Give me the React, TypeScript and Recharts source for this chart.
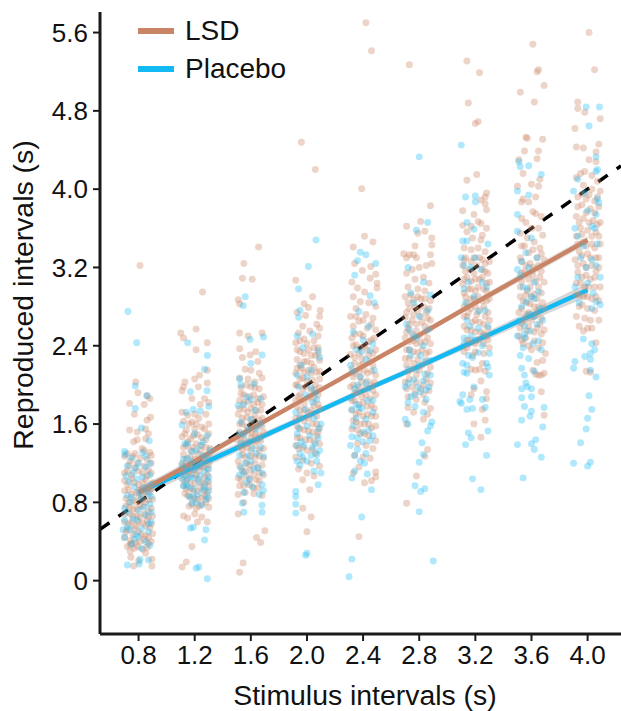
import { ComposedChart, Scatter, Line, Area, XAxis, YAxis, ZAxis, Label } from 'recharts';

type Pair = [number, number];

const xTicks = [0.8, 1.2, 1.6, 2.0, 2.4, 2.8, 3.2, 3.6, 4.0];
const yTicks = [0, 0.8, 1.6, 2.4, 3.2, 4.0, 4.8, 5.6];

const LSD_COLOR = '#c98465';
const PLACEBO_COLOR = '#12b9f3';
const AXIS_COLOR = '#1a1a1a';
const FONT = '"Liberation Sans", Arial, sans-serif';

// fitted lines, read at each stimulus interval
const lsdFit = [0.9, 1.22, 1.55, 1.87, 2.19, 2.51, 2.84, 3.16, 3.48];
const placeboFit = [0.9, 1.16, 1.42, 1.68, 1.94, 2.19, 2.45, 2.71, 2.97];
const lsdBandLow = [0.85, 1.18, 1.52, 1.85, 2.17, 2.49, 2.81, 3.12, 3.44];
const lsdBandHigh = [0.95, 1.26, 1.58, 1.89, 2.21, 2.53, 2.87, 3.2, 3.52];
const placeboBandLow = [0.84, 1.11, 1.38, 1.65, 1.91, 2.16, 2.41, 2.66, 2.9];
const placeboBandHigh = [0.96, 1.21, 1.46, 1.71, 1.97, 2.22, 2.49, 2.76, 3.04];
const identityX = [0.525, 4.238];

const lsd08: Pair[] = [[.81,3.22],[.78,2.03],[.795,1.92],[.736,1.81],[.84,1.8],[.88,1.86],[.86,1.89],[.77,1.7],[.885,1.67],[.86,1.64],[.736,1.54],[.79,1.52],[.85,1.55],[.87,1.5],[.765,1.42],[.79,1.44],[.85,1.45],[.825,1.35],[.775,1.3],[.88,1.31],[.7,1.27],[.74,1.22],[.81,1.25],[.86,1.24],[.89,1.2],[.72,1.12],[.77,1.15],[.83,1.1],[.87,1.13],[.7,1.02],[.75,1.04],[.8,.98],[.85,1.03],[.9,1.0],[.73,.93],[.78,.9],[.82,.93],[.88,.9],[.71,.84],[.76,.82],[.8,.85],[.85,.8],[.9,.83],[.74,.75],[.79,.73],[.83,.76],[.87,.71],[.7,.68],[.76,.66],[.81,.65],[.86,.62],[.9,.66],[.73,.58],[.78,.56],[.83,.59],[.88,.54],[.71,.5],[.76,.47],[.8,.5],[.85,.46],[.9,.48],[.74,.41],[.78,.39],[.81,.4],[.87,.38],[.72,.35],[.77,.33],[.83,.32],[.74,.3],[.745,.24],[.85,.28],[.895,.22],[.765,.15],[.895,.15],[.8,.2]];
const lsdCore08: Pair[] = [[.72,1.3],[.76,1.27],[.84,1.33],[.89,1.28],[.73,1.18],[.79,1.2],[.84,1.17],[.7,1.1],[.75,1.08],[.8,1.12],[.86,1.07],[.89,1.1],[.72,.98],[.77,1.0],[.83,1.0],[.87,.96],[.7,.92],[.75,.88],[.8,.92],[.85,.9],[.89,.94],[.73,.8],[.78,.8],[.83,.83],[.87,.83],[.71,.76],[.76,.73],[.81,.77],[.89,.74],[.74,.68],[.79,.66],[.84,.68],[.87,.65],[.7,.6],[.75,.6],[.8,.6],[.85,.56],[.89,.58],[.72,.52],[.77,.53],[.82,.47],[.87,.44],[.7,.44],[.75,.38],[.84,.42],[.89,.4],[.79,.35],[.86,.34],[.74,.37]];
const placebo08: Pair[] = [[.724,2.75],[.786,2.43],[.776,1.99],[.86,1.89],[.776,1.76],[.82,1.56],[.876,1.43],[.7,1.32],[.705,1.29],[.83,1.31],[.8,1.2],[.72,1.17],[.76,1.1],[.85,1.16],[.88,1.08],[.73,1.01],[.79,1.04],[.84,.95],[.89,.98],[.72,.87],[.77,.96],[.82,.84],[.87,.89],[.74,.8],[.88,.78],[.8,.72],[.7,.74],[.85,.67],[.76,.63],[.89,.6],[.72,.55],[.82,.53],[.87,.5],[.78,.47],[.7,.44],[.75,.37],[.88,.36],[.82,.33],[.72,.16],[.81,.22],[.87,.21],[.805,.17],[.77,.42],[.69,.52]];
const placeboCore08: Pair[] = [[.75,1.25],[.85,1.27],[.88,1.2],[.78,1.15],[.71,1.07],[.83,1.06],[.8,.9],[.75,.85],[.89,.86],[.84,.75],[.72,.7],[.79,.62],[.87,.58],[.74,.52],[.85,.4],[.8,.45],[.7,.62],[.89,.7]];

const lsd12: Pair[] = [[1.256,2.95],[1.1,2.53],[1.12,2.48],[1.21,2.57],[1.29,2.43],[1.21,2.36],[1.29,2.15],[1.2,2.06],[1.235,2.1],[1.13,2.03],[1.11,1.94],[1.12,1.98],[1.226,1.98],[1.29,2.02],[1.18,1.86],[1.27,1.86],[1.24,1.8],[1.3,1.82],[1.11,1.72],[1.15,1.69],[1.2,1.7],[1.28,1.7],[1.12,1.63],[1.18,1.62],[1.23,1.66],[1.25,1.57],[1.3,1.6],[1.14,1.54],[1.2,1.55],[1.11,1.47],[1.17,1.45],[1.22,1.49],[1.28,1.44],[1.14,1.38],[1.19,1.36],[1.25,1.38],[1.31,1.35],[1.12,1.29],[1.17,1.27],[1.22,1.3],[1.27,1.25],[1.11,1.2],[1.16,1.18],[1.21,1.2],[1.26,1.16],[1.3,1.19],[1.13,1.12],[1.18,1.09],[1.23,1.12],[1.29,1.08],[1.12,1.03],[1.17,1.0],[1.22,1.04],[1.27,.99],[1.3,1.01],[1.14,.94],[1.19,.92],[1.24,.95],[1.29,.9],[1.17,.85],[1.22,.83],[1.27,.87],[1.16,.76],[1.21,.74],[1.25,.78],[1.3,.75],[1.2,.68],[1.25,.65],[1.29,.6],[1.12,.66],[1.15,.64],[1.22,.6],[1.18,.35],[1.14,.19],[1.11,.14]];
const lsdCore12: Pair[] = [[1.16,1.6],[1.21,1.6],[1.27,1.55],[1.13,1.5],[1.19,1.48],[1.25,1.46],[1.3,1.5],[1.15,1.42],[1.21,1.4],[1.28,1.36],[1.12,1.36],[1.17,1.33],[1.24,1.33],[1.3,1.28],[1.14,1.24],[1.2,1.24],[1.25,1.22],[1.13,1.17],[1.19,1.14],[1.24,1.17],[1.29,1.14],[1.11,1.1],[1.16,1.08],[1.21,1.08],[1.27,1.06],[1.14,1.02],[1.2,.99],[1.25,1.0],[1.3,.96],[1.12,.97],[1.17,.94],[1.22,.91],[1.27,.92],[1.15,.87],[1.2,.84],[1.25,.85],[1.3,.84],[1.13,.89],[1.18,.78],[1.23,.76],[1.28,.8]];
const placebo12: Pair[] = [[1.15,2.43],[1.29,2.3],[1.27,2.16],[1.17,1.93],[1.288,1.94],[1.3,1.78],[1.14,1.72],[1.19,1.75],[1.24,1.73],[1.11,1.59],[1.2,1.5],[1.29,1.48],[1.26,1.42],[1.15,1.4],[1.31,1.33],[1.21,1.33],[1.12,1.24],[1.26,1.28],[1.18,1.21],[1.3,1.14],[1.14,1.14],[1.24,1.07],[1.11,1.04],[1.2,1.05],[1.29,1.02],[1.15,.96],[1.26,.93],[1.12,.97],[1.22,.88],[1.18,.79],[1.28,.83],[1.25,.77],[1.3,.92],[1.19,.94],[1.16,.86],[1.17,.535],[1.19,.545],[1.28,.52],[1.27,.415],[1.21,.127],[1.23,.14],[1.29,.02]];
const placeboCore12: Pair[] = [[1.13,1.4],[1.18,1.32],[1.24,1.38],[1.29,1.25],[1.15,1.25],[1.22,1.17],[1.27,1.12],[1.13,1.08],[1.17,1.06],[1.23,1.01],[1.3,1.06],[1.14,.98],[1.19,.86],[1.27,.96],[1.11,1.18],[1.21,.8],[1.29,.86],[1.24,1.2],[1.15,1.04],[1.2,1.13]];

const lsd16: Pair[] = [[1.655,3.41],[1.55,3.24],[1.54,3.09],[1.61,3.08],[1.51,2.87],[1.52,2.83],[1.52,2.53],[1.58,2.5],[1.68,2.53],[1.52,2.37],[1.54,2.28],[1.595,2.305],[1.635,2.34],[1.65,2.24],[1.56,2.16],[1.6,2.15],[1.66,2.12],[1.68,2.07],[1.52,2.07],[1.58,2.06],[1.63,2.03],[1.53,1.97],[1.6,1.98],[1.66,1.96],[1.55,1.9],[1.62,1.9],[1.69,1.88],[1.52,1.84],[1.58,1.83],[1.65,1.82],[1.55,1.75],[1.6,1.76],[1.67,1.74],[1.51,1.7],[1.57,1.67],[1.63,1.69],[1.68,1.66],[1.54,1.6],[1.6,1.61],[1.65,1.58],[1.52,1.52],[1.58,1.53],[1.63,1.5],[1.69,1.52],[1.55,1.44],[1.6,1.46],[1.67,1.43],[1.52,1.37],[1.57,1.36],[1.63,1.38],[1.69,1.35],[1.54,1.29],[1.6,1.27],[1.66,1.27],[1.51,1.22],[1.57,1.2],[1.63,1.2],[1.68,1.18],[1.54,1.12],[1.6,1.13],[1.66,1.1],[1.51,1.05],[1.57,1.07],[1.64,1.03],[1.69,1.08],[1.52,.97],[1.59,.98],[1.65,.95],[1.51,.88],[1.56,.9],[1.62,.89],[1.68,.87],[1.55,.8],[1.51,.68],[1.7,.51],[1.64,.44],[1.67,.39],[1.545,.18],[1.52,.086]];
const lsdCore16: Pair[] = [[1.57,2.0],[1.63,1.97],[1.53,1.91],[1.59,1.88],[1.65,1.86],[1.55,1.82],[1.62,1.8],[1.68,1.8],[1.52,1.76],[1.58,1.72],[1.64,1.74],[1.54,1.66],[1.61,1.65],[1.66,1.64],[1.52,1.6],[1.57,1.57],[1.63,1.56],[1.68,1.58],[1.55,1.5],[1.61,1.5],[1.66,1.48],[1.53,1.43],[1.58,1.4],[1.64,1.43],[1.5,1.44],[1.6,1.33],[1.66,1.33],[1.54,1.34],[1.56,1.26],[1.63,1.27],[1.69,1.25],[1.52,1.17],[1.59,1.18],[1.65,1.15],[1.56,1.12],[1.62,1.08],[1.53,1.03],[1.59,1.03],[1.66,1.02],[1.55,.97],[1.62,.95]];
const placebo16: Pair[] = [[1.56,2.9],[1.545,2.81],[1.69,2.49],[1.595,2.465],[1.68,2.305],[1.6,2.22],[1.52,2.06],[1.53,2.0],[1.62,2.01],[1.57,1.88],[1.67,1.86],[1.51,1.79],[1.63,1.74],[1.6,1.65],[1.67,1.6],[1.53,1.62],[1.66,1.45],[1.55,1.49],[1.61,1.35],[1.52,1.28],[1.69,1.27],[1.56,1.2],[1.65,1.15],[1.52,1.08],[1.59,1.04],[1.61,.96],[1.69,.92],[1.55,.9],[1.68,.98],[1.54,.79],[1.55,.7],[1.68,.77],[1.68,.7],[1.66,.88],[1.58,1.42]];
const placeboCore16: Pair[] = [[1.55,1.8],[1.6,1.85],[1.52,1.5],[1.64,1.55],[1.58,1.55],[1.53,1.4],[1.64,1.3],[1.67,1.36],[1.58,1.28],[1.55,1.1],[1.62,1.14],[1.68,1.1],[1.57,1.0],[1.53,1.15],[1.6,1.22]];

const lsd20: Pair[] = [[1.96,4.48],[2.06,4.2],[1.92,3.07],[2.04,2.9],[1.98,2.83],[2.01,2.79],[1.93,2.74],[1.99,2.71],[2.095,2.76],[2.09,2.7],[2.07,2.62],[2.09,2.58],[1.97,2.6],[2.02,2.55],[2.08,2.5],[1.94,2.53],[1.98,2.47],[2.05,2.45],[1.92,2.43],[2.08,2.38],[1.95,2.34],[2.01,2.36],[2.06,2.3],[1.93,2.26],[1.98,2.24],[2.03,2.22],[2.09,2.25],[1.96,2.17],[2.01,2.15],[2.07,2.13],[1.92,2.12],[1.97,2.07],[2.04,2.05],[2.09,2.06],[1.93,2.0],[1.99,1.98],[2.05,1.95],[1.95,1.9],[2.02,1.88],[2.08,1.9],[1.92,1.84],[1.98,1.8],[2.05,1.79],[2.09,1.76],[1.95,1.74],[2.01,1.72],[2.07,1.68],[1.92,1.66],[1.98,1.63],[2.04,1.6],[1.95,1.55],[2.01,1.53],[2.08,1.52],[1.93,1.46],[1.99,1.44],[2.05,1.42],[2.09,1.4],[1.94,1.35],[2.0,1.33],[2.06,1.3],[1.92,1.26],[1.97,1.23],[2.03,1.2],[2.09,1.17],[1.94,1.14],[2.0,1.1],[2.05,1.07],[1.97,1.03],[2.02,.93],[1.97,.74],[2.03,.65],[2.0,.5]];
const lsdCore20: Pair[] = [[1.95,2.45],[2.0,2.42],[2.05,2.38],[1.93,2.36],[1.98,2.32],[2.03,2.3],[2.08,2.32],[1.95,2.2],[2.0,2.24],[2.05,2.18],[1.93,2.17],[1.98,2.13],[2.03,2.12],[2.09,2.14],[1.95,2.06],[2.0,2.04],[2.06,2.0],[1.92,2.0],[1.97,1.96],[2.03,1.95],[2.09,1.97],[1.94,1.88],[2.0,1.86],[2.05,1.86],[1.93,1.78],[1.98,1.74],[2.03,1.74],[2.08,1.8],[1.95,1.68],[2.01,1.66],[2.07,1.6],[1.93,1.58],[1.98,1.54],[2.04,1.52],[2.09,1.56],[1.95,1.46],[2.02,1.44],[2.07,1.48],[1.92,1.38],[1.97,1.36],[2.04,1.34]];
const placebo20: Pair[] = [[2.064,3.48],[2.01,3.21],[1.94,2.98],[1.95,2.76],[1.94,2.69],[1.93,2.5],[2.04,2.52],[2.08,2.35],[1.97,2.38],[2.09,2.28],[2.0,2.08],[1.94,1.98],[2.03,1.97],[2.06,1.92],[1.92,1.72],[2.07,1.85],[1.99,1.75],[2.05,1.66],[1.94,1.56],[2.1,1.6],[2.02,1.48],[2.08,1.46],[1.96,1.42],[2.04,1.36],[1.93,1.38],[2.07,1.29],[2.09,1.33],[2.0,1.22],[1.97,1.26],[2.1,1.1],[1.95,1.18],[2.05,1.12],[2.08,.98],[1.92,.86],[1.92,.91],[1.92,.78],[1.92,.69],[1.99,.26],[2.0,.28]];
const placeboCore20: Pair[] = [[1.96,2.2],[2.03,2.15],[1.93,2.1],[1.99,1.9],[2.04,1.82],[1.95,1.66],[2.08,1.55],[2.0,1.58],[1.93,1.5],[2.06,1.4],[1.98,1.38],[2.03,1.28],[1.95,1.3],[2.07,1.22],[1.93,1.22]];

const lsd24: Pair[] = [[2.42,5.7],[2.46,5.415],[2.39,4.005],[2.41,3.52],[2.47,3.46],[2.33,3.41],[2.34,3.24],[2.455,3.21],[2.395,3.17],[2.45,3.09],[2.49,3.13],[2.5,3.04],[2.5,2.99],[2.41,2.95],[2.32,3.05],[2.36,2.99],[2.33,2.9],[2.44,2.84],[2.38,2.85],[2.49,2.8],[2.35,2.78],[2.42,2.72],[2.47,2.68],[2.31,2.7],[2.37,2.65],[2.33,2.6],[2.43,2.58],[2.49,2.56],[2.38,2.52],[2.46,2.46],[2.32,2.48],[2.35,2.41],[2.41,2.4],[2.49,2.36],[2.37,2.32],[2.44,2.3],[2.31,2.31],[2.34,2.22],[2.4,2.21],[2.47,2.2],[2.37,2.14],[2.43,2.12],[2.49,2.1],[2.33,2.08],[2.39,2.03],[2.46,2.0],[2.31,1.98],[2.36,1.93],[2.42,1.9],[2.49,1.9],[2.34,1.84],[2.4,1.82],[2.46,1.79],[2.32,1.74],[2.37,1.72],[2.43,1.7],[2.49,1.68],[2.35,1.62],[2.41,1.6],[2.46,1.56],[2.32,1.55],[2.38,1.5],[2.44,1.48],[2.49,1.43],[2.36,1.4],[2.42,1.38],[2.47,1.35],[2.34,1.28],[2.4,1.26],[2.45,1.25],[2.33,1.1],[2.37,1.16],[2.41,1.0],[2.46,1.02],[2.49,1.06],[2.49,1.11],[2.37,.45]];
const lsdCore24: Pair[] = [[2.35,2.7],[2.4,2.66],[2.46,2.62],[2.34,2.52],[2.4,2.5],[2.44,2.44],[2.48,2.48],[2.33,2.4],[2.38,2.38],[2.43,2.36],[2.47,2.32],[2.34,2.28],[2.39,2.27],[2.45,2.24],[2.32,2.16],[2.38,2.2],[2.41,2.15],[2.46,2.14],[2.34,2.12],[2.38,2.08],[2.43,2.04],[2.48,2.03],[2.33,2.0],[2.37,1.98],[2.42,1.97],[2.47,1.94],[2.34,1.92],[2.39,1.88],[2.45,1.86],[2.32,1.84],[2.37,1.8],[2.43,1.78],[2.48,1.76],[2.35,1.7],[2.4,1.68],[2.46,1.68],[2.33,1.64],[2.38,1.6],[2.44,1.6],[2.49,1.58],[2.36,1.54],[2.41,1.5]];
const placebo24: Pair[] = [[2.38,3.355],[2.42,3.33],[2.36,3.27],[2.49,3.24],[2.34,3.12],[2.45,2.91],[2.48,2.84],[2.37,2.75],[2.44,2.6],[2.33,2.54],[2.4,2.46],[2.47,2.42],[2.35,2.36],[2.42,2.26],[2.31,2.2],[2.48,2.15],[2.38,2.08],[2.34,1.96],[2.44,1.96],[2.31,1.87],[2.35,1.8],[2.32,1.75],[2.37,1.77],[2.42,1.65],[2.47,1.72],[2.33,1.58],[2.4,1.52],[2.36,1.46],[2.45,1.43],[2.31,1.38],[2.34,1.28],[2.38,1.22],[2.41,1.2],[2.46,.93],[2.43,1.09],[2.39,.65],[2.32,.22],[2.3,.04],[2.32,1.05],[2.34,1.12]];
const placeboCore24: Pair[] = [[2.39,2.34],[2.45,2.35],[2.33,2.14],[2.42,2.02],[2.36,2.0],[2.47,1.84],[2.39,1.76],[2.43,1.84],[2.35,1.66],[2.44,1.54],[2.4,1.42],[2.36,1.34],[2.47,1.48],[2.32,1.47],[2.42,1.3]];

const lsd28: Pair[] = [[2.73,5.27],[2.88,3.83],[2.81,3.67],[2.71,3.62],[2.84,3.57],[2.79,3.55],[2.89,3.5],[2.89,3.43],[2.77,3.42],[2.88,3.33],[2.69,3.34],[2.73,3.33],[2.76,3.33],[2.71,3.3],[2.78,3.3],[2.75,3.18],[2.8,3.2],[2.85,3.22],[2.89,3.24],[2.71,3.14],[2.77,3.08],[2.83,3.1],[2.87,3.04],[2.72,3.0],[2.79,2.98],[2.84,2.96],[2.7,2.9],[2.76,2.87],[2.81,2.88],[2.88,2.86],[2.73,2.78],[2.79,2.76],[2.85,2.74],[2.7,2.69],[2.75,2.66],[2.82,2.64],[2.88,2.66],[2.72,2.58],[2.78,2.55],[2.84,2.54],[2.7,2.48],[2.76,2.45],[2.81,2.43],[2.88,2.42],[2.73,2.36],[2.79,2.33],[2.85,2.32],[2.7,2.27],[2.76,2.22],[2.82,2.2],[2.88,2.18],[2.72,2.13],[2.78,2.1],[2.85,2.06],[2.7,2.03],[2.75,1.98],[2.81,1.96],[2.87,1.94],[2.72,1.88],[2.78,1.85],[2.84,1.82],[2.88,1.76],[2.72,1.77],[2.76,1.72],[2.83,1.65],[2.86,1.7],[2.71,1.6],[2.86,1.34],[2.84,1.27],[2.78,1.07],[2.71,.79]];
const lsdCore28: Pair[] = [[2.74,2.92],[2.79,2.9],[2.84,2.88],[2.72,2.84],[2.77,2.8],[2.83,2.8],[2.87,2.78],[2.71,2.74],[2.76,2.72],[2.81,2.7],[2.86,2.68],[2.73,2.62],[2.78,2.62],[2.84,2.6],[2.88,2.58],[2.71,2.54],[2.75,2.52],[2.8,2.5],[2.86,2.48],[2.73,2.44],[2.78,2.42],[2.84,2.44],[2.71,2.36],[2.76,2.34],[2.82,2.36],[2.87,2.34],[2.73,2.27],[2.79,2.26],[2.85,2.25],[2.71,2.2],[2.75,2.16],[2.8,2.15],[2.86,2.12],[2.73,2.06],[2.78,2.03],[2.83,2.0],[2.88,2.02],[2.71,1.96],[2.77,1.92],[2.83,1.9]];
const placebo28: Pair[] = [[2.8,4.33],[2.86,3.66],[2.78,3.58],[2.72,3.2],[2.83,3.05],[2.88,2.92],[2.76,2.84],[2.71,2.62],[2.86,2.56],[2.78,2.48],[2.83,2.4],[2.73,2.36],[2.88,2.25],[2.8,2.2],[2.72,2.16],[2.84,2.11],[2.76,2.05],[2.87,1.98],[2.7,1.98],[2.81,1.93],[2.74,1.88],[2.72,1.82],[2.85,1.85],[2.77,1.78],[2.83,1.72],[2.89,1.62],[2.7,1.65],[2.72,1.6],[2.88,1.58],[2.86,1.53],[2.82,1.41],[2.83,1.29],[2.8,1.21],[2.77,.97],[2.84,.94],[2.81,.91],[2.8,.705],[2.9,.2]];
const placeboCore28: Pair[] = [[2.74,2.94],[2.8,2.7],[2.86,2.76],[2.73,2.56],[2.76,2.5],[2.81,2.3],[2.74,2.3],[2.84,2.24],[2.78,2.16],[2.83,2.04],[2.88,2.1],[2.72,2.02],[2.79,1.98],[2.85,1.95],[2.77,1.9]];

const lsd32: Pair[] = [[3.14,5.31],[3.23,5.19],[3.15,4.88],[3.22,4.69],[3.2,4.67],[3.21,4.15],[3.14,4.09],[3.28,3.96],[3.27,3.92],[3.24,3.89],[3.27,3.85],[3.28,3.79],[3.11,3.78],[3.19,3.74],[3.22,3.67],[3.11,3.63],[3.17,3.62],[3.24,3.65],[3.28,3.6],[3.14,3.565],[3.25,3.53],[3.18,3.5],[3.24,3.48],[3.12,3.4],[3.17,3.38],[3.22,3.4],[3.27,3.36],[3.13,3.3],[3.19,3.3],[3.25,3.28],[3.3,3.26],[3.11,3.22],[3.16,3.18],[3.21,3.22],[3.27,3.16],[3.14,3.1],[3.2,3.08],[3.25,3.1],[3.3,3.05],[3.11,3.03],[3.17,2.98],[3.22,3.0],[3.28,2.96],[3.13,2.9],[3.19,2.88],[3.25,2.86],[3.3,2.88],[3.12,2.8],[3.17,2.78],[3.23,2.76],[3.29,2.74],[3.14,2.7],[3.2,2.66],[3.26,2.62],[3.3,2.66],[3.12,2.6],[3.17,2.56],[3.24,2.54],[3.28,2.5],[3.14,2.46],[3.2,2.42],[3.26,2.42],[3.3,2.38],[3.12,2.34],[3.18,2.3],[3.25,2.22],[3.17,2.16],[3.2,2.15],[3.23,2.16],[3.27,2.14],[3.19,1.96],[3.24,2.04],[3.28,1.93],[3.28,1.86],[3.25,1.75],[3.17,1.9],[3.19,1.6],[3.27,1.64],[3.24,1.465]];
const lsdCore32: Pair[] = [[3.12,3.28],[3.17,3.26],[3.23,3.3],[3.27,3.24],[3.13,3.16],[3.19,3.14],[3.25,3.18],[3.29,3.14],[3.12,3.08],[3.17,3.06],[3.23,3.08],[3.28,3.04],[3.15,2.98],[3.2,2.96],[3.26,2.98],[3.12,2.94],[3.17,2.88],[3.22,2.9],[3.28,2.86],[3.14,2.84],[3.2,2.8],[3.26,2.8],[3.15,2.74],[3.21,2.72],[3.27,2.7],[3.12,2.7],[3.18,2.64],[3.23,2.64],[3.29,2.58],[3.14,2.56],[3.2,2.54],[3.26,2.52],[3.16,2.46],[3.22,2.46],[3.29,2.46],[3.14,2.38],[3.2,2.34],[3.26,2.32]];
const placebo32: Pair[] = [[3.1,4.45],[3.13,3.92],[3.2,3.93],[3.2,3.87],[3.14,3.66],[3.19,3.59],[3.11,3.47],[3.14,3.47],[3.29,3.44],[3.1,3.3],[3.2,3.3],[3.12,3.22],[3.24,3.18],[3.15,3.05],[3.28,3.0],[3.13,2.84],[3.22,2.75],[3.29,2.6],[3.17,2.5],[3.12,2.48],[3.25,2.4],[3.3,2.32],[3.15,2.3],[3.22,2.33],[3.18,2.28],[3.11,2.22],[3.14,2.2],[3.28,2.22],[3.29,2.18],[3.12,2.13],[3.14,2.12],[3.3,2.1],[3.19,1.98],[3.11,1.9],[3.16,1.85],[3.25,1.85],[3.09,1.83],[3.1,1.81],[3.14,1.75],[3.18,1.76],[3.27,1.77],[3.29,1.53],[3.15,1.51],[3.17,1.46],[3.13,1.39],[3.28,1.28],[3.18,1.04],[3.24,.93]];
const placeboCore32: Pair[] = [[3.17,3.2],[3.25,3.05],[3.12,2.98],[3.19,2.9],[3.27,2.76],[3.14,2.66],[3.22,2.58],[3.16,2.6],[3.26,2.5],[3.12,2.42],[3.2,2.46]];

const lsd36: Pair[] = [[3.61,5.48],[3.64,5.2],[3.65,5.22],[3.69,5.06],[3.52,4.99],[3.62,4.89],[3.56,4.53],[3.57,4.52],[3.68,4.51],[3.55,4.39],[3.65,4.39],[3.64,4.31],[3.51,4.3],[3.54,4.16],[3.66,4.1],[3.6,4.05],[3.5,4.03],[3.65,4.03],[3.54,3.9],[3.63,3.92],[3.53,3.87],[3.58,3.87],[3.61,3.77],[3.63,3.75],[3.53,3.7],[3.67,3.72],[3.56,3.66],[3.6,3.6],[3.65,3.6],[3.52,3.55],[3.68,3.53],[3.57,3.5],[3.62,3.46],[3.66,3.4],[3.53,3.42],[3.58,3.35],[3.64,3.3],[3.69,3.28],[3.52,3.3],[3.56,3.22],[3.61,3.2],[3.67,3.16],[3.53,3.14],[3.58,3.08],[3.63,3.06],[3.69,3.05],[3.52,3.0],[3.57,2.96],[3.62,2.93],[3.67,2.94],[3.54,2.86],[3.59,2.83],[3.65,2.8],[3.69,2.78],[3.51,2.74],[3.56,2.72],[3.62,2.7],[3.67,2.68],[3.53,2.63],[3.58,2.6],[3.64,2.58],[3.69,2.56],[3.51,2.5],[3.56,2.48],[3.62,2.45],[3.68,2.43],[3.53,2.46],[3.58,2.4],[3.7,2.32],[3.68,2.25],[3.64,2.23],[3.61,2.15],[3.63,2.11],[3.65,2.1],[3.67,2.1],[3.69,2.12],[3.67,1.93],[3.69,1.69]];
const lsdCore36: Pair[] = [[3.55,3.42],[3.61,3.38],[3.67,3.34],[3.53,3.26],[3.59,3.24],[3.65,3.22],[3.55,3.16],[3.61,3.12],[3.66,3.1],[3.53,3.06],[3.59,3.0],[3.65,3.0],[3.56,2.92],[3.6,2.9],[3.64,2.88],[3.52,2.9],[3.57,2.84],[3.62,2.8],[3.68,2.84],[3.53,2.78],[3.58,2.74],[3.64,2.74],[3.55,2.66],[3.6,2.66],[3.66,2.62],[3.52,2.58],[3.57,2.55],[3.62,2.54],[3.67,2.52],[3.54,2.42],[3.6,2.36],[3.65,2.38]];
const placebo36: Pair[] = [[3.51,4.28],[3.52,4.23],[3.58,4.24],[3.67,4.15],[3.5,3.98],[3.58,3.94],[3.5,3.74],[3.5,3.57],[3.6,3.5],[3.56,3.35],[3.53,3.26],[3.64,3.3],[3.5,3.18],[3.52,3.12],[3.58,3.2],[3.62,3.05],[3.54,3.0],[3.65,2.95],[3.6,2.9],[3.56,2.85],[3.51,2.65],[3.62,2.7],[3.68,2.66],[3.55,2.6],[3.59,2.55],[3.65,2.45],[3.5,2.5],[3.55,2.48],[3.52,2.3],[3.58,2.27],[3.62,2.14],[3.53,2.17],[3.55,2.1],[3.56,2.02],[3.57,1.98],[3.6,1.96],[3.53,1.96],[3.6,1.88],[3.53,1.87],[3.55,1.78],[3.69,1.77],[3.6,1.73],[3.59,1.68],[3.53,1.64],[3.68,1.57],[3.5,1.39],[3.63,1.44],[3.6,1.4],[3.62,1.34],[3.67,1.26],[3.54,1.05]];
const placeboCore36: Pair[] = [[3.57,2.98],[3.62,2.88],[3.66,2.78],[3.53,2.8],[3.58,2.72],[3.64,2.62],[3.55,2.52],[3.61,2.42],[3.67,2.36],[3.54,2.38]];

const lsd40: Pair[] = [[4.01,5.6],[4.05,5.22],[3.93,4.89],[3.93,4.825],[3.98,4.785],[4.09,4.72],[3.91,4.62],[3.92,4.43],[3.97,4.42],[4.08,4.46],[4.06,4.38],[4.01,4.3],[4.06,4.28],[3.95,4.16],[3.98,4.18],[4.03,4.14],[3.92,4.12],[4.07,4.08],[3.97,4.04],[4.03,4.0],[4.09,3.98],[3.93,3.92],[3.99,3.9],[4.05,3.88],[3.96,3.84],[4.02,3.8],[4.08,3.82],[3.92,3.72],[3.97,3.7],[4.04,3.68],[4.09,3.66],[3.95,3.6],[4.0,3.58],[4.06,3.56],[3.92,3.52],[3.97,3.46],[4.03,3.44],[4.09,3.44],[3.94,3.36],[4.0,3.34],[4.06,3.3],[3.91,3.28],[3.97,3.24],[4.03,3.22],[4.08,3.2],[3.93,3.15],[3.99,3.12],[4.05,3.1],[3.95,3.04],[4.01,3.0],[4.09,3.0],[3.92,2.92],[3.97,2.9],[4.03,2.88],[4.08,2.86],[3.94,2.8],[4.0,2.78],[4.05,2.76],[3.92,2.7],[3.98,2.68],[4.02,2.66],[4.08,2.66],[3.94,2.6],[3.97,2.55],[4.0,2.58],[4.03,2.58],[4.06,2.43],[3.99,2.14],[4.02,2.13]];
const lsdCore40: Pair[] = [[3.96,3.95],[4.01,3.94],[4.07,3.92],[3.93,3.82],[3.99,3.76],[4.05,3.76],[3.94,3.66],[4.01,3.66],[4.07,3.64],[3.96,3.54],[4.03,3.52],[4.08,3.52],[3.93,3.44],[3.99,3.42],[4.05,3.4],[3.96,3.32],[4.02,3.3],[4.08,3.3],[3.93,3.22],[3.99,3.2],[4.06,3.16],[3.96,3.1],[4.02,3.08],[3.92,3.04],[3.98,3.0],[4.05,3.0],[3.94,2.92],[4.0,2.9],[4.06,2.9],[3.96,2.82]];
const placebo40: Pair[] = [[3.99,4.84],[4.085,4.84],[4.01,4.645],[4.06,4.33],[4.07,4.2],[3.93,4.1],[4.06,4.18],[3.98,3.96],[3.9,3.98],[4.07,3.9],[4.08,3.86],[4.0,3.78],[4.06,3.74],[4.03,3.62],[4.05,3.6],[3.91,3.6],[3.93,3.52],[3.97,3.42],[3.95,3.3],[4.07,3.44],[4.03,3.28],[3.99,3.2],[4.06,3.22],[3.93,3.1],[4.09,3.1],[4.0,3.04],[3.91,3.0],[4.04,2.94],[4.09,2.82],[4.03,2.78],[4.06,2.85],[3.94,2.84],[3.97,2.47],[4.03,2.42],[4.05,2.36],[4.02,2.32],[3.98,2.29],[4.02,2.26],[3.91,2.24],[3.9,2.17],[4.02,2.15],[4.06,2.08],[4.01,1.89],[4.03,1.75],[4.0,1.66],[3.99,1.55],[3.95,1.41],[3.9,1.2],[4.02,1.21],[4.0,1.17]];

const toPoints = (columns: Pair[][]) => columns.flat().map(([x, y]) => ({ x, y }));

const lsdPoints = toPoints([lsd08, lsdCore08, lsd12, lsdCore12, lsd16, lsdCore16, lsd20, lsdCore20, lsd24, lsdCore24, lsd28, lsdCore28, lsd32, lsdCore32, lsd36, lsdCore36, lsd40, lsdCore40]);
const placeboPoints = toPoints([placebo08, placeboCore08, placebo12, placeboCore12, placebo16, placeboCore16, placebo20, placeboCore20, placebo24, placeboCore24, placebo28, placeboCore28, placebo32, placeboCore32, placebo36, placeboCore36, placebo40]);

const fitRows = xTicks.map((x, i) => ({
  x,
  lsd: lsdFit[i],
  placebo: placeboFit[i],
  lsdBand: [lsdBandLow[i], lsdBandHigh[i]],
  placeboBand: [placeboBandLow[i], placeboBandHigh[i]],
}));
const identityRows = identityX.map(x => ({ x, identity: x }));

function LegendBox() {
  const items = [
    { name: 'LSD', color: LSD_COLOR },
    { name: 'Placebo', color: PLACEBO_COLOR },
  ];
  return (
    <div style={{ position: 'absolute', left: 138, top: 12 }}>
      {items.map(item => (
        <div key={item.name} style={{ display: 'flex', alignItems: 'center', height: 38 }}>
          <div style={{ width: 36, height: 6, background: item.color, marginRight: 11 }} />
          <span style={{ fontFamily: FONT, fontSize: 28, color: '#111' }}>{item.name}</span>
        </div>
      ))}
    </div>
  );
}

export default function App() {
  return (
    <div style={{ position: 'absolute', left: 0, top: 0, width: 621, height: 711, background: '#fff' }}>
      <ComposedChart width={621} height={711} margin={{ top: 12, right: 0, bottom: 0, left: 0 }} data={fitRows}>
        <XAxis
          type="number"
          dataKey="x"
          domain={[0.525, 4.238]}
          ticks={xTicks}
          allowDataOverflow
          height={77}
          tickSize={7}
          tickMargin={5}
          tickFormatter={(v: number) => v.toFixed(1)}
          axisLine={{ stroke: AXIS_COLOR, strokeWidth: 3 }}
          tickLine={{ stroke: AXIS_COLOR, strokeWidth: 2 }}
          tick={{ fill: '#111', fontSize: 26, fontFamily: FONT }}
          interval={0}
        >
          <Label
            content={() => (
              <text x={365} y={705} textAnchor="middle" fontSize={28.4} fontFamily={FONT} fill="#111">
                Stimulus intervals (s)
              </text>
            )}
          />
        </XAxis>
        <YAxis
          type="number"
          dataKey="y"
          domain={[-0.545, 5.81]}
          ticks={yTicks}
          allowDataOverflow
          width={100}
          tickSize={7}
          tickMargin={5}
          tickFormatter={(v: number) => (v === 0 ? '0' : v.toFixed(1))}
          axisLine={{ stroke: AXIS_COLOR, strokeWidth: 3 }}
          tickLine={{ stroke: AXIS_COLOR, strokeWidth: 2 }}
          tick={{ fill: '#111', fontSize: 26, fontFamily: FONT }}
          interval={0}
        >
          <Label
            content={() => (
              <text
                transform="translate(33,295) rotate(-90)"
                textAnchor="middle"
                fontSize={28.4}
                fontFamily={FONT}
                fill="#111"
              >
                Reproduced intervals (s)
              </text>
            )}
          />
        </YAxis>
        <ZAxis range={[38, 38]} />
        <Scatter name="LSD points" data={lsdPoints} fill="#cf8d70" fillOpacity={0.38} isAnimationActive={false} legendType="none" />
        <Scatter name="Placebo points" data={placeboPoints} fill="#1cbcf4" fillOpacity={0.34} isAnimationActive={false} legendType="none" />
        <Area dataKey="lsdBand" stroke="none" fill="#a8a8a8" fillOpacity={0.35} isAnimationActive={false} legendType="none" dot={false} activeDot={false} />
        <Area dataKey="placeboBand" stroke="none" fill="#a8a8a8" fillOpacity={0.45} isAnimationActive={false} legendType="none" dot={false} activeDot={false} />
        <Line data={identityRows} dataKey="identity" stroke="#000" strokeWidth={3.5} strokeDasharray="11.5 11" dot={false} isAnimationActive={false} legendType="none" />
        <Line dataKey="placebo" stroke={PLACEBO_COLOR} strokeWidth={4.5} dot={false} isAnimationActive={false} legendType="none" />
        <Line dataKey="lsd" stroke={LSD_COLOR} strokeWidth={4.5} dot={false} isAnimationActive={false} legendType="none" />
      </ComposedChart>
      <LegendBox />
    </div>
  );
}
